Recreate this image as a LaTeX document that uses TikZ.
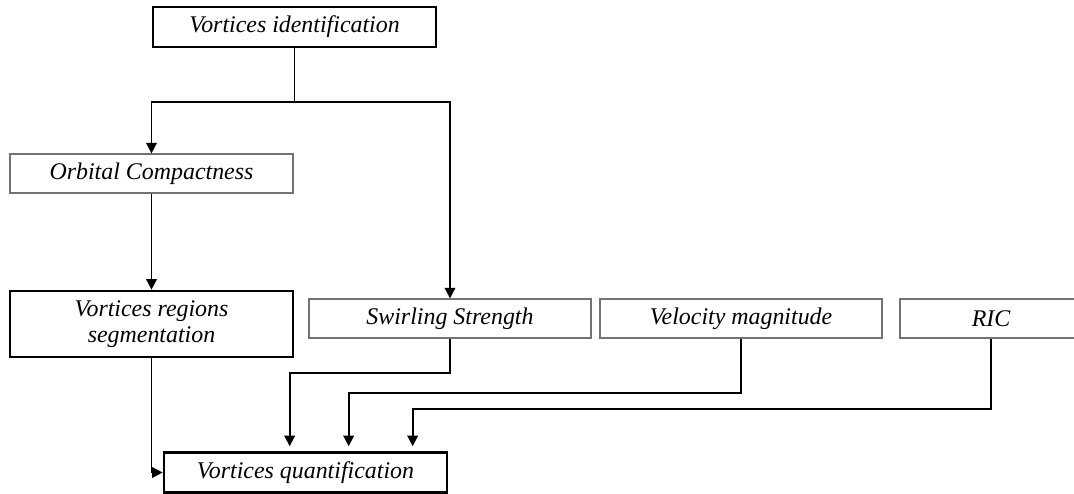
\documentclass[tikz,border=0pt]{standalone}
\usepackage{fontspec}
\setmainfont{Liberation Serif}
\usetikzlibrary{arrows.meta}

\begin{document}
\begin{tikzpicture}[
    every node/.style={draw,font=\fontsize{6.8}{7.6}\selectfont\itshape,inner sep=1pt,minimum height=0.39cm,align=center},
    thickbox/.style={line width=0.75pt,draw=black},
    thinbox/.style={line width=0.35pt,draw=black!55},
    lnk/.style={draw,line width=0.5pt},
    arr/.style={lnk,-{Triangle[length=3pt,width=3pt]}}
  ]
  \useasboundingbox (0,0) rectangle (10.74,-4.93);
  % boxes
  \node[thickbox,minimum width=2.83cm,minimum height=0.40cm] (ident) at (2.945,-0.27) {Vortices identification};
  \node[thinbox,minimum width=2.83cm] (orbital) at (1.515,-1.735) {Orbital Compactness};
  \node[thickbox,minimum width=2.83cm,minimum height=0.66cm] (segm) at (1.515,-3.24) {Vortices regions\\segmentation};
  \node[thinbox,minimum width=2.82cm] (swirl) at (4.50,-3.185) {Swirling Strength};
  \node[thinbox,minimum width=2.82cm] (velo) at (7.41,-3.185) {Velocity magnitude};
  \node[thinbox,minimum width=1.82cm] (ric) at (9.91,-3.185) {RIC};
  \node[thickbox,minimum width=2.83cm,minimum height=0.40cm] (quant) at (3.055,-4.725) {Vortices quantification};
  % links
  \coordinate (split) at (2.945,-1.02);
  \draw[lnk] (ident.south) -- (split);
  \draw[arr] (split) -| (orbital.north);
  \draw[arr] (split) -| (swirl.north);
  \draw[arr] (orbital.south) -- (segm.north);
  \draw[arr] (segm.south) |- (quant.west);
  \draw[arr,shorten >=0.05cm] (swirl.south) -- ++(0,-0.345) -| ([xshift=1.27cm]quant.north west);
  \draw[arr,shorten >=0.05cm] (velo.south) -- ++(0,-0.545) -| ([xshift=1.86cm]quant.north west);
  \draw[arr,shorten >=0.05cm] (ric.south) -- ++(0,-0.705) -| ([xshift=2.50cm]quant.north west);
\end{tikzpicture}
\end{document}
